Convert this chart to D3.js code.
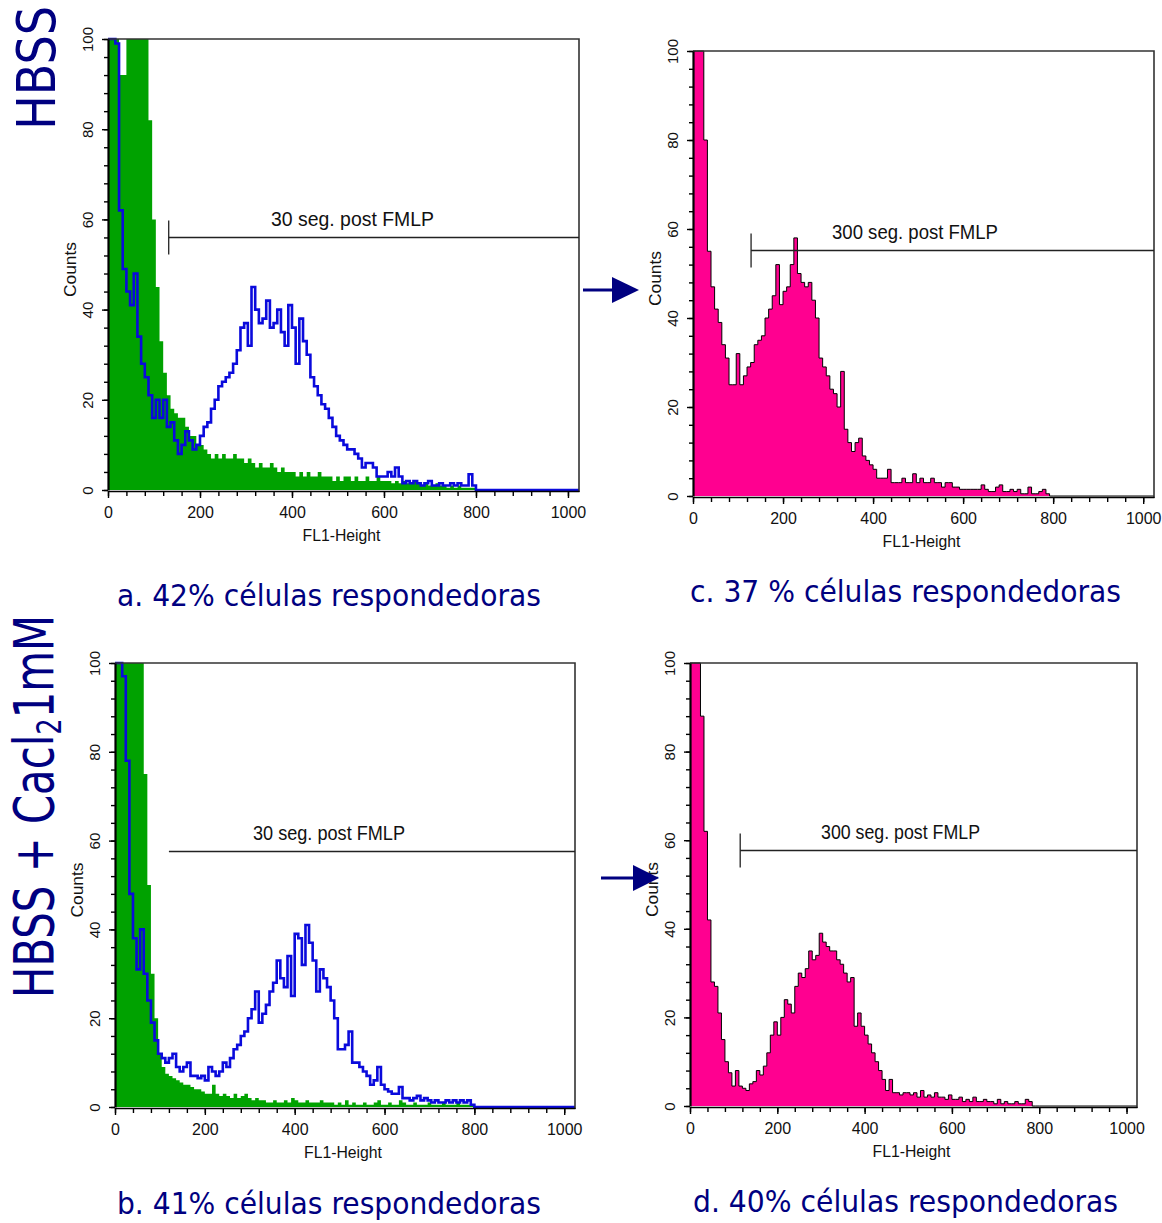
<!DOCTYPE html>
<html>
<head>
<meta charset="utf-8">
<script src="https://cdn.jsdelivr.net/npm/d3@7"></script>
<style>
  body { margin: 0; background: #fff; }
  svg text { font-family: "Liberation Sans", Arial, sans-serif; }
</style>
</head>
<body>
<div id="chart"></div>
<script>
//
// Flow cytometry histograms (FL1-Height vs Counts), 4 panels
//

// each value is one bin of 8 channels, starting at channel 0; bins past the array are empty
var binWidth = 8;
var channelMax = 1024;

var xTicks = [0, 200, 400, 600, 800, 1000];
var yTicks = [0, 20, 40, 60, 80, 100];

// a. HBSS, 30 s post FMLP
var aGreen = [120, 120, 120, 92, 92, 120, 120, 120, 120, 120,
    120, 82, 60, 45, 33, 26, 21, 18, 17, 16,
    16, 14, 12, 12, 10, 10, 9, 8, 7, 8,
    7, 8, 7, 7, 8, 7, 7, 6, 7, 6,
    5, 6, 5, 5, 6, 5, 4, 5, 4, 4,
    4, 3, 4, 3, 4, 3, 3, 4, 3, 3,
    3, 2, 3, 2, 3, 3, 2, 3, 2, 2,
    3, 2, 2, 3, 2, 2, 2, 1.5, 2, 1.5,
    2, 1.5, 1.5, 2, 1.5, 1, 1.5, 1, 1, 1.5,
    1, 1, 0.5, 1, 0.5, 1, 0.5, 0.5, 0.5, 0.5];
var aBlue = [120, 110, 99, 62, 49, 44, 41, 48, 34, 28,
    25, 21, 16, 20, 16, 20, 14, 15, 11, 8,
    10, 13, 11, 9, 10, 12, 14, 15, 18, 20,
    23, 24, 25, 26, 28, 31, 36, 37, 32, 45,
    40, 37, 38, 42, 36, 37, 40, 35, 32, 41,
    36, 28, 38, 33, 30, 25, 23, 21, 19, 18,
    16, 14, 12, 11, 10, 9, 9, 8, 7, 5,
    6, 6, 5, 3, 3, 3, 4, 3, 5, 3,
    1.5, 2, 1.5, 2, 1.5, 1, 1.5, 2, 1, 1,
    1.5, 1, 1, 1.5, 1, 1.5, 1, 1, 3.5, 1];

// c. HBSS, 300 s post FMLP
var cPink = [120, 120, 100, 80, 55, 47, 42, 39, 34, 31,
    25, 25, 32, 25, 27, 29, 30, 34, 35, 36,
    40, 42, 45, 52, 43, 46, 47, 52, 58, 50,
    48, 47, 48, 44, 40, 31, 29, 27, 24, 23,
    20, 28, 15, 12, 10, 12, 13, 9, 8, 7,
    6, 4, 4, 4, 6, 3, 3, 3, 4, 3,
    3, 5, 3, 4, 3, 3, 4, 3, 3, 2,
    3, 3, 2, 2, 1.5, 1.5, 1.5, 1.5, 1.5, 1.5,
    2.5, 1.5, 1, 1, 2, 2.5, 1, 1, 1.5, 1,
    1.5, 0.5, 0.5, 2, 0.5, 0.5, 1, 1.5, 0.5, 0];

// b. HBSS + CaCl2 1 mM, 30 s post FMLP
var bGreen = [120, 120, 120, 120, 120, 120, 120, 120, 75, 50,
    30, 20, 12, 9, 7.5, 7, 6.5, 6, 5.5, 5,
    5, 4.5, 4, 4, 3.5, 3, 3, 5, 3, 2.5,
    3, 2.5, 2, 3, 2, 2.5, 3, 2, 1.5, 2,
    1.5, 1.5, 1, 1, 1.5, 1, 1, 1.5, 1, 2,
    1.5, 1, 1, 1.5, 1, 1, 1, 1.5, 1, 1,
    1, 0.5, 1, 0.5, 1.5, 0.5, 1, 0.5, 0.5, 1,
    0.5, 0.5, 1, 1.5, 0.5, 0.5, 1, 0.5, 0.5, 1.5,
    1, 0.5, 0.5, 1, 0.5, 0.5, 0.5, 1, 0.5, 0.5,
    0.5, 1, 0.5, 0.5, 0.5, 1, 0.5, 0.5, 0.5, 0.5];
var bBlue = [120, 120, 97, 78, 48, 38, 31, 40, 30, 24,
    19, 15, 12, 11, 10, 11, 12, 9, 8, 9,
    10, 7, 7, 6.5, 7, 6, 9, 8, 7, 8,
    10, 9, 11, 13, 14, 16, 17, 20, 22, 26,
    19, 21, 23, 26, 28, 33, 29, 27, 34, 25,
    39, 38, 32, 41, 37, 33, 26, 31, 29, 27,
    24, 20, 13, 13, 14, 17, 10, 10, 9, 8,
    7, 5, 6, 9, 5, 4, 3.5, 3, 3, 4.5,
    2, 2, 1.5, 2, 2.5, 1.5, 2, 1.5, 1, 1.5,
    1, 1, 1.5, 1, 1.5, 1, 1.5, 1, 1.5, 0.5];

// d. HBSS + CaCl2 1 mM, 300 s post FMLP
var dPink = [120, 120, 105, 88, 62, 42, 28, 27, 21, 15,
    10, 7.5, 4.5, 8, 4.5, 4, 3.5, 5, 5.5, 8,
    7, 9, 12, 16, 19, 16, 20, 24, 23, 21,
    27, 30, 29, 31, 35, 33, 34, 39, 37, 36,
    35, 35, 33, 32, 30, 28, 29, 18, 21, 18,
    16, 14, 12, 10, 8, 6, 3.5, 6, 3, 3,
    2.5, 3, 3, 2.5, 3, 2, 3.5, 2, 2.5, 2,
    3, 2, 2, 1.5, 2.5, 1.5, 1.5, 2, 1, 1.5,
    1, 2, 1, 1, 1.5, 1, 1, 0.5, 1.5, 0.5,
    1, 0.5, 0.5, 1, 0.5, 0.5, 1.5, 1, 0, 0];

var gateLabels = ["30 seg. post  FMLP", "300 seg. post FMLP", "30 seg. post FMLP", "300 seg. post FMLP"];
var gateStart = [132, 129, 120, 115];   // channel where the marker starts
var gateLevel = [56, 55.3, 57.7, 57.8]; // counts level of the marker
var captions = ["a. 42% células respondedoras", "c. 37 % células respondedoras",
    "b. 41% células respondedoras", "d. 40% células respondedoras"];

var navy = "#000080";
var green = "#00a200";
var blue = "#0a0adc";
var pink = "#ff0090";

var svg = d3.select("#chart")
    .append("svg")
    .attr("width", 1162)
    .attr("height", 1223);

var panels = [
    { id: "a", left: 108, right: 579, top: 39, bottom: 490, fillData: aGreen, fillColor: green, lineData: aBlue,
      gate: 0, gateTick: true, labelX: 352.5, labelLen: 163, capX: 117, capY: 606, capLen: 424 },
    { id: "c", left: 693, right: 1154, top: 51, bottom: 496, fillData: cPink, fillColor: pink, outline: true,
      gate: 1, gateTick: true, labelX: 915, labelLen: 166, capX: 690, capY: 602, capLen: 431 },
    { id: "b", left: 115, right: 575, top: 663, bottom: 1107, fillData: bGreen, fillColor: green, lineData: bBlue,
      gate: 2, gateTick: false, labelX: 329, labelLen: 152, capX: 117, capY: 1214, capLen: 424 },
    { id: "d", left: 690, right: 1137, top: 663, bottom: 1106, fillData: dPink, fillColor: pink, outline: true,
      gate: 3, gateTick: true, labelX: 900.5, labelLen: 159, capX: 693, capY: 1212, capLen: 425 }
];

function stepPoints(vals) {
    var pts = vals.map(function (v, i) { return [i * binWidth, v]; });
    pts.push([vals.length * binWidth, 0]);
    pts.push([channelMax, 0]);
    return pts;
}

function drawPanel(p) {
    var x = d3.scaleLinear().domain([0, channelMax]).range([p.left, p.right]);
    var y = d3.scaleLinear().domain([0, 100]).range([p.bottom, p.top]).clamp(true);
    var g = svg.append("g").attr("class", "panel-" + p.id);

    var area = d3.area().curve(d3.curveStepAfter)
        .x(function (d) { return x(d[0]); })
        .y0(p.bottom)
        .y1(function (d) { return y(d[1]); });
    var line = d3.line().curve(d3.curveStepAfter)
        .x(function (d) { return x(d[0]); })
        .y(function (d) { return y(d[1]); });

    // histograms
    g.append("path").datum(stepPoints(p.fillData))
        .attr("d", area)
        .attr("fill", p.fillColor);
    if (p.outline)
        g.append("path").datum(stepPoints(p.fillData))
            .attr("d", line)
            .attr("fill", "none")
            .attr("stroke", "#000")
            .attr("stroke-width", 1);
    if (p.lineData)
        g.append("path").datum(stepPoints(p.lineData))
            .attr("d", line)
            .attr("fill", "none")
            .attr("stroke", blue)
            .attr("stroke-width", 2.6)
            .attr("stroke-linejoin", "miter");

    // frame top + right
    g.append("path")
        .attr("d", "M" + p.left + "," + p.top + "H" + p.right + "V" + (p.bottom + 2))
        .attr("fill", "none")
        .attr("stroke", "#333")
        .attr("stroke-width", 1.6);

    // y axis
    var yMinor = d3.range(0, 101, 4);
    g.append("g")
        .attr("transform", "translate(" + p.left + ",0)")
        .call(d3.axisLeft(y).tickValues(yMinor).tickSize(4).tickFormat(""))
        .call(function (s) { s.select(".domain").remove(); })
        .selectAll("line").attr("stroke-width", 1.4);
    var ya = g.append("g")
        .attr("transform", "translate(" + p.left + ",0)")
        .call(d3.axisLeft(y).tickValues(yTicks).tickSize(6).tickSizeOuter(0).tickFormat(d3.format("d")));
    ya.select(".domain").attr("stroke-width", 2.2);
    ya.selectAll("line").attr("stroke-width", 1.4);
    ya.selectAll("text")
        .attr("x", 0).attr("y", -15).attr("dy", null)
        .attr("text-anchor", "middle")
        .attr("transform", "rotate(-90)")
        .style("font-size", "15px")
        .attr("fill", "#111");

    // x axis
    var xMinor = d3.range(0, channelMax + 1, 40);
    g.append("g")
        .attr("transform", "translate(0," + (p.bottom + 1) + ")")
        .call(d3.axisBottom(x).tickValues(xMinor).tickSize(5).tickFormat(""))
        .call(function (s) { s.select(".domain").remove(); })
        .selectAll("line").attr("stroke-width", 1.4);
    var xa = g.append("g")
        .attr("transform", "translate(0," + (p.bottom + 1) + ")")
        .call(d3.axisBottom(x).tickValues(xTicks).tickSize(7).tickSizeOuter(0).tickFormat(d3.format("d")));
    xa.select(".domain").attr("stroke-width", 1.6);
    xa.selectAll("line").attr("stroke-width", 1.4);
    xa.selectAll("text")
        .attr("y", 27).attr("dy", null)
        .style("font-size", "16px")
        .attr("fill", "#111");

    // axis titles
    g.append("text")
        .attr("transform", "translate(" + (p.left - 32) + "," + ((p.top + p.bottom) / 2 + 5) + ") rotate(-90)")
        .attr("text-anchor", "middle")
        .attr("textLength", 55)
        .attr("lengthAdjust", "spacingAndGlyphs")
        .style("font-size", "16px")
        .attr("fill", "#111")
        .text("Counts");
    g.append("text")
        .attr("x", (p.left + p.right) / 2 - 2)
        .attr("y", p.bottom + 51)
        .attr("text-anchor", "middle")
        .attr("textLength", 78)
        .attr("lengthAdjust", "spacingAndGlyphs")
        .style("font-size", "17px")
        .attr("fill", "#111")
        .text("FL1-Height");

    // gate marker
    var gx = x(gateStart[p.gate]);
    var gy = Math.round(y(gateLevel[p.gate])) + 0.5;
    g.append("line")
        .attr("x1", gx).attr("x2", p.right)
        .attr("y1", gy).attr("y2", gy)
        .attr("stroke", "#222").attr("stroke-width", 1.3);
    if (p.gateTick)
        g.append("line")
            .attr("x1", gx).attr("x2", gx)
            .attr("y1", gy - 17).attr("y2", gy + 17)
            .attr("stroke", "#222").attr("stroke-width", 1.3);
    g.append("text")
        .attr("x", p.labelX)
        .attr("y", gy - 12)
        .attr("text-anchor", "middle")
        .attr("textLength", p.labelLen)
        .attr("lengthAdjust", "spacingAndGlyphs")
        .style("font-size", "21px")
        .attr("fill", "#111")
        .text(gateLabels[p.gate]);

    // caption
    svg.append("text")
        .attr("x", p.capX)
        .attr("y", p.capY)
        .attr("textLength", p.capLen)
        .attr("lengthAdjust", "spacingAndGlyphs")
        .style("font-family", "'DejaVu Sans', Verdana, sans-serif")
        .style("font-size", "30px")
        .attr("fill", navy)
        .text(captions[p.gate]);
}

panels.forEach(drawPanel);

// row labels (narrowed font, stretched for glyph height)
svg.append("text")
    .attr("transform", "translate(55,68) rotate(-90) scale(1,1.17)")
    .attr("text-anchor", "middle")
    .style("font-family", "'DejaVu Sans', Verdana, sans-serif")
    .style("font-size", "46px")
    .attr("fill", navy)
    .text("HBSS");

var row2 = svg.append("text")
    .attr("transform", "translate(53,806.5) rotate(-90)")
    .attr("text-anchor", "middle")
    .attr("textLength", 383)
    .attr("lengthAdjust", "spacingAndGlyphs")
    .style("font-family", "'DejaVu Sans', Verdana, sans-serif")
    .style("font-size", "55px")
    .attr("fill", navy);
row2.append("tspan").text("HBSS + Cacl");
row2.append("tspan").attr("dy", 8).style("font-size", "34px").text("2");
row2.append("tspan").attr("dy", -8).text("1mM");

// arrows between columns
function arrow(x1, x2, tip, yMid) {
    svg.append("line")
        .attr("x1", x1).attr("x2", x2 + 2)
        .attr("y1", yMid).attr("y2", yMid)
        .attr("stroke", navy).attr("stroke-width", 3);
    svg.append("path")
        .attr("d", "M" + x2 + "," + (yMid - 13) + "L" + tip + "," + yMid + "L" + x2 + "," + (yMid + 13) + "Z")
        .attr("fill", navy);
}
arrow(583, 612, 639, 290);
arrow(601, 633, 659, 878);
</script>
</body>
</html>
